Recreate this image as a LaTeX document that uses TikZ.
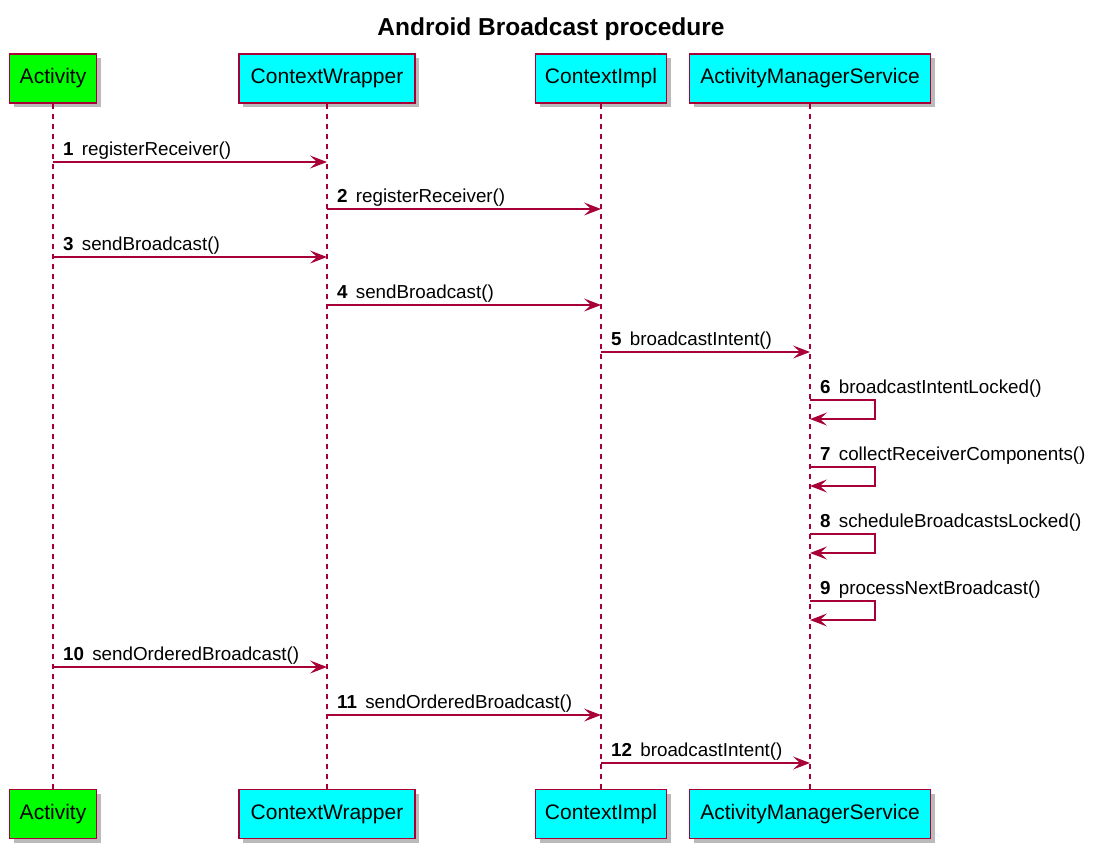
\documentclass[tikz,border=0pt]{standalone}
\usepackage{fontspec}
\setmainfont{Liberation Sans}
\usetikzlibrary{arrows.meta,shadows}
\definecolor{umlred}{HTML}{A80036}
\definecolor{umlcyan}{HTML}{00FFFF}
\definecolor{umlgreen}{HTML}{00FF00}
\tikzset{
part/.style={rectangle, draw=umlred, line width=1.8pt, fill=umlcyan, minimum height=49pt, inner sep=0pt,
  font=\fontsize{21}{23}\selectfont, drop shadow={shadow xshift=4pt, shadow yshift=-4pt, fill=black!45, opacity=0.6}},
life/.style={color=umlred, line width=1.1pt, dash pattern=on 5pt off 5pt},
msg/.style={color=umlred, line width=1.3pt, -{Stealth[length=17pt,width=13pt,inset=7pt]}},
lbl/.style={anchor=base west, inner sep=0pt, font=\fontsize{18.8}{21}\selectfont}
}

\begin{document}
\begin{tikzpicture}[x=1pt, y=-1pt]
\useasboundingbox (0,0) rectangle (1102,847);

\node[font=\fontsize{24.5}{27}\selectfont\bfseries] (title) at (551,29) {Android Broadcast procedure};

% participants, top and bottom
\foreach \p/\x/\w/\c/\t in {act/53/87/umlgreen/Activity, cw/327/176/umlcyan/ContextWrapper,
  ci/601/131/umlcyan/ContextImpl, ams/810/241/umlcyan/ActivityManagerService} {
\node[part, fill=\c, minimum width=\w pt] (\p) at (\x,78.5) {\t};
\node[part, fill=\c, minimum width=\w pt] (\p b) at (\x,814) {\t};
}
\foreach \p in {act,cw,ci,ams}
  \draw[life] (\p.south) -- (\p b.north);

% calls between participants
\foreach \n/\a/\b/\y/\t in {1/act/cw/162/registerReceiver(), 2/cw/ci/209/registerReceiver(),
  3/act/cw/257/sendBroadcast(), 4/cw/ci/305/sendBroadcast(), 5/ci/ams/352/broadcastIntent(),
  10/act/cw/667/sendOrderedBroadcast(), 11/cw/ci/715/sendOrderedBroadcast(), 12/ci/ams/763/broadcastIntent()} {
\pgfmathsetmacro{\ly}{\y-7}
\draw[msg] (\a |- 0,\y) -- (\b |- 0,\y);
\node[lbl] (m\n) at ([xshift=10pt]\a |- 0,\ly) {\textbf{\n}\hspace{3pt} \t};
}

% calls to itself
\foreach \n/\y/\t in {6/400/broadcastIntentLocked(), 7/467/collectReceiverComponents(),
  8/534/scheduleBroadcastsLocked(), 9/601/processNextBroadcast()} {
\pgfmathsetmacro{\ly}{\y-7}
\pgfmathsetmacro{\yy}{\y+19}
\draw[msg] (ams |- 0,\y) -- ++(65,0) -- ++(0,19) -- (ams |- 0,\yy);
\node[lbl] (m\n) at ([xshift=10pt]ams |- 0,\ly) {\textbf{\n}\hspace{3pt} \t};
}

\end{tikzpicture}
\end{document}
